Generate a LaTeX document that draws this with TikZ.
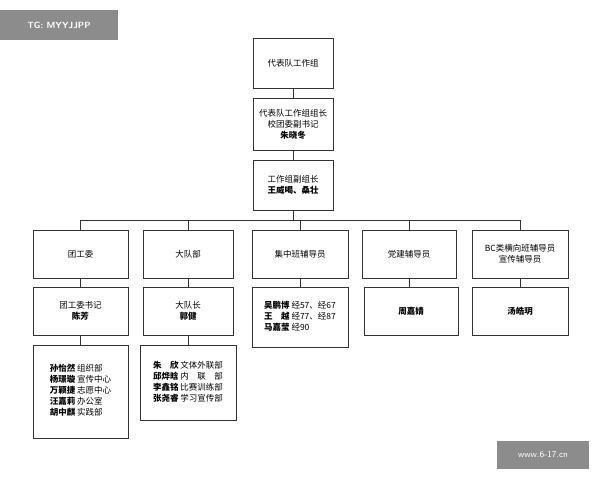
\documentclass[tikz,border=0pt]{standalone}
\usepackage{fontspec}
\setmainfont{Noto Sans CJK SC}
\begin{document}
\begin{tikzpicture}[x=1pt,y=-1pt,
 bx/.style={draw=black!80,line width=0.8pt,fill=white,font=\fontsize{8.5}{11}\selectfont,align=center,inner sep=0pt},
 ln/.style={draw=black!80,line width=0.8pt}]
\fill[white] (0,0) rectangle (600,480);
\newcommand{\bbox}[6]{\node[bx,minimum width=#3-#1,minimum height=#4-#2] (#5) at ({(#1+#3)/2},{(#2+#4)/2}) {#6};}
\bbox{253}{38}{333}{88}{a}{代表队工作组}
\bbox{253}{98}{333}{150}{b}{代表队工作组组长\\校团委副书记\\\textbf{朱晓冬}}
\bbox{253}{160}{333}{210}{c}{工作组副组长\\\textbf{王威喝、桑壮}}
\bbox{33}{230}{128}{278}{c1}{团工委}
\bbox{143}{230}{233}{278}{c2}{大队部}
\bbox{252}{230}{348}{278}{c3}{集中班辅导员}
\bbox{362}{230}{456}{278}{c4}{党建辅导员}
\bbox{472}{230}{568}{278}{c5}{BC类横向班辅导员\\宣传辅导员}
\bbox{33}{287}{128}{335}{d1}{团工委书记\\\textbf{陈芳}}
\bbox{143}{287}{233}{335}{d2}{大队长\\\textbf{郭健}}
\bbox{252}{287}{348}{347}{d3}{\begin{tabular}{@{}l@{\ }l@{}}\textbf{吴鹏博}&经57、经67\\\textbf{王\hfill 越}&经77、经87\\\textbf{马嘉莹}&经90\end{tabular}}
\bbox{364}{287}{458}{335}{d4}{\textbf{周嘉婧}}
\bbox{472}{287}{568}{335}{d5}{\textbf{汤皓玥}}
\bbox{33}{345}{128}{438}{e1}{\begin{tabular}{@{}l@{\ }l@{}}\textbf{孙怡然}&组织部\\\textbf{杨璟璇}&宣传中心\\\textbf{万颖捷}&志愿中心\\\textbf{汪嘉莉}&办公室\\\textbf{胡中麒}&实践部\end{tabular}}
\bbox{140}{345}{236}{420}{e2}{\begin{tabular}{@{}l@{\ }l@{}}\textbf{朱\hfill 欣}&文体外联部\\\textbf{邱烨晗}&内\hfill 联\hfill 部\\\textbf{李鑫铭}&比赛训练部\\\textbf{张尧睿}&学习宣传部\end{tabular}}
\draw[ln] (a.south)--(b.north) (b.south)--(c.north);
\coordinate (bus) at (293,220);
\draw[ln] (c.south)--(bus);
\draw[ln] (c1.north|-bus)--(c5.north|-bus);
\foreach \i in {1,...,5}{\draw[ln] (c\i.north|-bus)--(c\i.north); \draw[ln] (c\i.south)--(c\i.south|-d\i.north);}
\draw[ln] (d1.south)--(d1.south|-e1.north);
\draw[ln] (d2.south)--(d2.south|-e2.north);
\node[fill=black!45,text=white,font=\sffamily\bfseries\fontsize{9}{10}\selectfont,minimum width=118,minimum height=30,inner sep=0pt] (w1) at (59,25) {TG: MYYJJPP};
\node[fill=black!45,text=white,font=\sffamily\fontsize{9}{10}\selectfont,minimum width=92,minimum height=28,inner sep=0pt] (w2) at (543,455) {www.6-17.cn};
\end{tikzpicture}
\end{document}
